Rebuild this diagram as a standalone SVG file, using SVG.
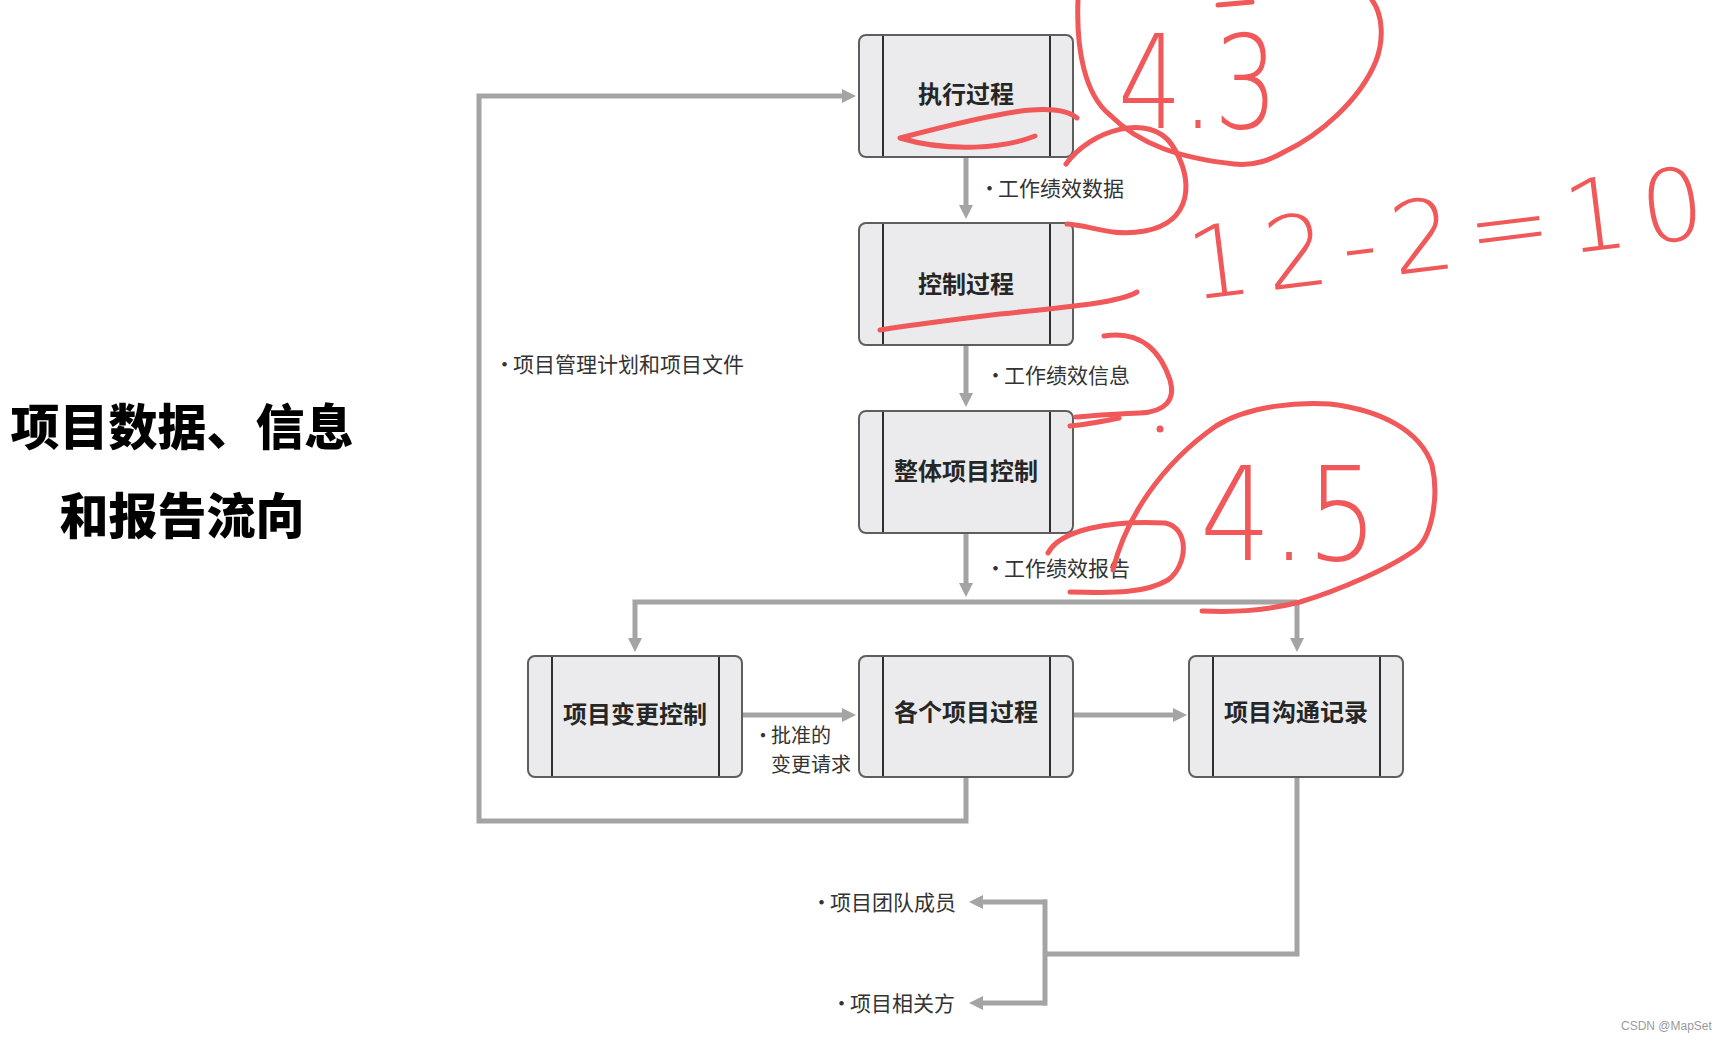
<svg xmlns="http://www.w3.org/2000/svg" width="1720" height="1041" viewBox="0 0 1720 1041">
<style>
.box rect{fill:#ebebed;stroke:#5e5e5e;stroke-width:2}
.box line{stroke:#2e2e2e;stroke-width:2}
.box text{font-family:"Noto Sans CJK SC","Noto Sans CJK JP",sans-serif;font-size:24px;font-weight:700;fill:#262626;text-anchor:middle}
.conn path{fill:none;stroke:#a4a4a4;stroke-width:5}
.lbl{font-family:"Noto Sans CJK SC","Noto Sans CJK JP",sans-serif;font-size:21px;fill:#333}
.title{font-family:"Noto Sans CJK SC","Noto Sans CJK JP",sans-serif;font-size:49px;font-weight:900;fill:#000;text-anchor:middle}
.red{fill:none;stroke:#f0585a;stroke-width:5;stroke-linecap:round;stroke-linejoin:round}
.hand{font-family:"DejaVu Sans",sans-serif;font-weight:200;fill:#f0585a}
</style>
<defs>
<marker id="ah" markerUnits="userSpaceOnUse" markerWidth="14" markerHeight="14" viewBox="0 0 14 14" refX="7" refY="7" orient="auto">
<path d="M0,0 L14,7 L0,14 Z" fill="#a4a4a4"/>
</marker>
</defs>
<rect width="1720" height="1041" fill="#fff"/>

<g id="title">
<text class="title" x="182" y="445">项目数据、信息</text>
<text class="title" x="182" y="534">和报告流向</text>
</g>

<g id="connectors" class="conn">
<path d="M966,157 V212" marker-end="url(#ah)"/>
<path d="M966,345 V400" marker-end="url(#ah)"/>
<path d="M966,533 V590" marker-end="url(#ah)"/>
<path d="M1297,602 H635 V645" marker-end="url(#ah)"/>
<path d="M1297,602 V645" marker-end="url(#ah)"/>
<path d="M742,715 H849" marker-end="url(#ah)"/>
<path d="M1073,715 H1180" marker-end="url(#ah)"/>
<path d="M966,777 V821 H479 V96 H849" marker-end="url(#ah)"/>
<path d="M1297,777 V954 H1045"/>
<path d="M1045,899.5 V1005.5"/>
<path d="M1047,902 H976" marker-end="url(#ah)"/>
<path d="M1047,1003 H976" marker-end="url(#ah)"/>
</g>

<g id="n1" class="box">
<rect x="859" y="35" width="214" height="122" rx="7"/>
<line x1="883" y1="36" x2="883" y2="156"/><line x1="1050" y1="36" x2="1050" y2="156"/>
<text x="966" y="103">执行过程</text>
</g>
<g id="n2" class="box">
<rect x="859" y="223" width="214" height="122" rx="7"/>
<line x1="883" y1="224" x2="883" y2="344"/><line x1="1050" y1="224" x2="1050" y2="344"/>
<text x="966" y="293">控制过程</text>
</g>
<g id="n3" class="box">
<rect x="859" y="411" width="214" height="122" rx="7"/>
<line x1="883" y1="412" x2="883" y2="532"/><line x1="1050" y1="412" x2="1050" y2="532"/>
<text x="966" y="480">整体项目控制</text>
</g>
<g id="n4" class="box">
<rect x="528" y="656" width="214" height="121" rx="7"/>
<line x1="552" y1="657" x2="552" y2="776"/><line x1="719" y1="657" x2="719" y2="776"/>
<text x="635" y="723">项目变更控制</text>
</g>
<g id="n5" class="box">
<rect x="859" y="656" width="214" height="121" rx="7"/>
<line x1="883" y1="657" x2="883" y2="776"/><line x1="1050" y1="657" x2="1050" y2="776"/>
<text x="966" y="721">各个项目过程</text>
</g>
<g id="n6" class="box">
<rect x="1189" y="656" width="214" height="121" rx="7"/>
<line x1="1213" y1="657" x2="1213" y2="776"/><line x1="1380" y1="657" x2="1380" y2="776"/>
<text x="1296" y="721">项目沟通记录</text>
</g>

<g id="labels" class="lbl">
<text y="196"><tspan x="979">•</tspan><tspan x="998">工作绩效数据</tspan></text>
<text y="383"><tspan x="985">•</tspan><tspan x="1004">工作绩效信息</tspan></text>
<text y="576"><tspan x="985">•</tspan><tspan x="1004">工作绩效报告</tspan></text>
<text y="372"><tspan x="494">•</tspan><tspan x="513">项目管理计划和项目文件</tspan></text>
<text y="743" font-size="20"><tspan x="753">•</tspan><tspan x="771">批准的</tspan></text>
<text x="771" y="772" font-size="20">变更请求</text>
<text y="910"><tspan x="811">•</tspan><tspan x="830">项目团队成员</tspan></text>
<text y="1011"><tspan x="831">•</tspan><tspan x="850">项目相关方</tspan></text>
</g>

<g id="annotations">
<path class="red" d="M1077,118 C1055,100 1000,112 900,138 C950,153 1005,148 1035,136"/>
<path class="red" d="M1078,0 C1076,50 1085,95 1110,115 C1140,145 1180,158 1234,164 C1255,166 1270,160 1284,152 C1320,135 1360,100 1376,61 C1384,40 1383,15 1372,0"/>
<path class="red" d="M1218,5 L1252,2"/>
<path class="red" d="M1066,164 C1090,130 1150,112 1172,145 C1195,180 1192,222 1145,231 C1110,237 1090,225 1067,224"/>
<path class="red" d="M1137,292 C1120,302 1080,306 1000,314 C950,320 905,326 880,330"/>
<path class="red" d="M1104,336 C1140,330 1160,350 1170,380 C1176,400 1165,412 1140,413 C1110,414 1090,416 1076,417"/>
<path class="red" d="M1070,426 C1090,424 1105,421 1119,418"/>
<circle cx="1160" cy="429" r="3.5" fill="#f0585a"/>
<path class="red" d="M1113,570 C1125,520 1160,465 1216,426 C1250,405 1300,402 1330,404 C1380,410 1420,430 1432,465 C1440,500 1430,540 1415,550 C1390,568 1340,590 1300,602 C1260,612 1230,612 1202,611"/>
<path class="red" d="M1048,553 C1060,530 1110,520 1165,523 C1190,528 1188,565 1168,580 C1140,596 1100,592 1070,592"/>
<text class="hand" x="1118" y="128" font-size="130" textLength="160" lengthAdjust="spacingAndGlyphs">4.3</text>
<text class="hand" x="1192" y="300" font-size="100" textLength="520" lengthAdjust="spacing" transform="rotate(-7 1192 300)">12-2=10</text>
<text class="hand" x="1200" y="560" font-size="130" textLength="178" lengthAdjust="spacingAndGlyphs">4.5</text>
</g>

<text x="1621" y="1030" font-family="Liberation Sans, sans-serif" font-size="12" fill="#9a9a9a">CSDN @MapSet</text>
</svg>
